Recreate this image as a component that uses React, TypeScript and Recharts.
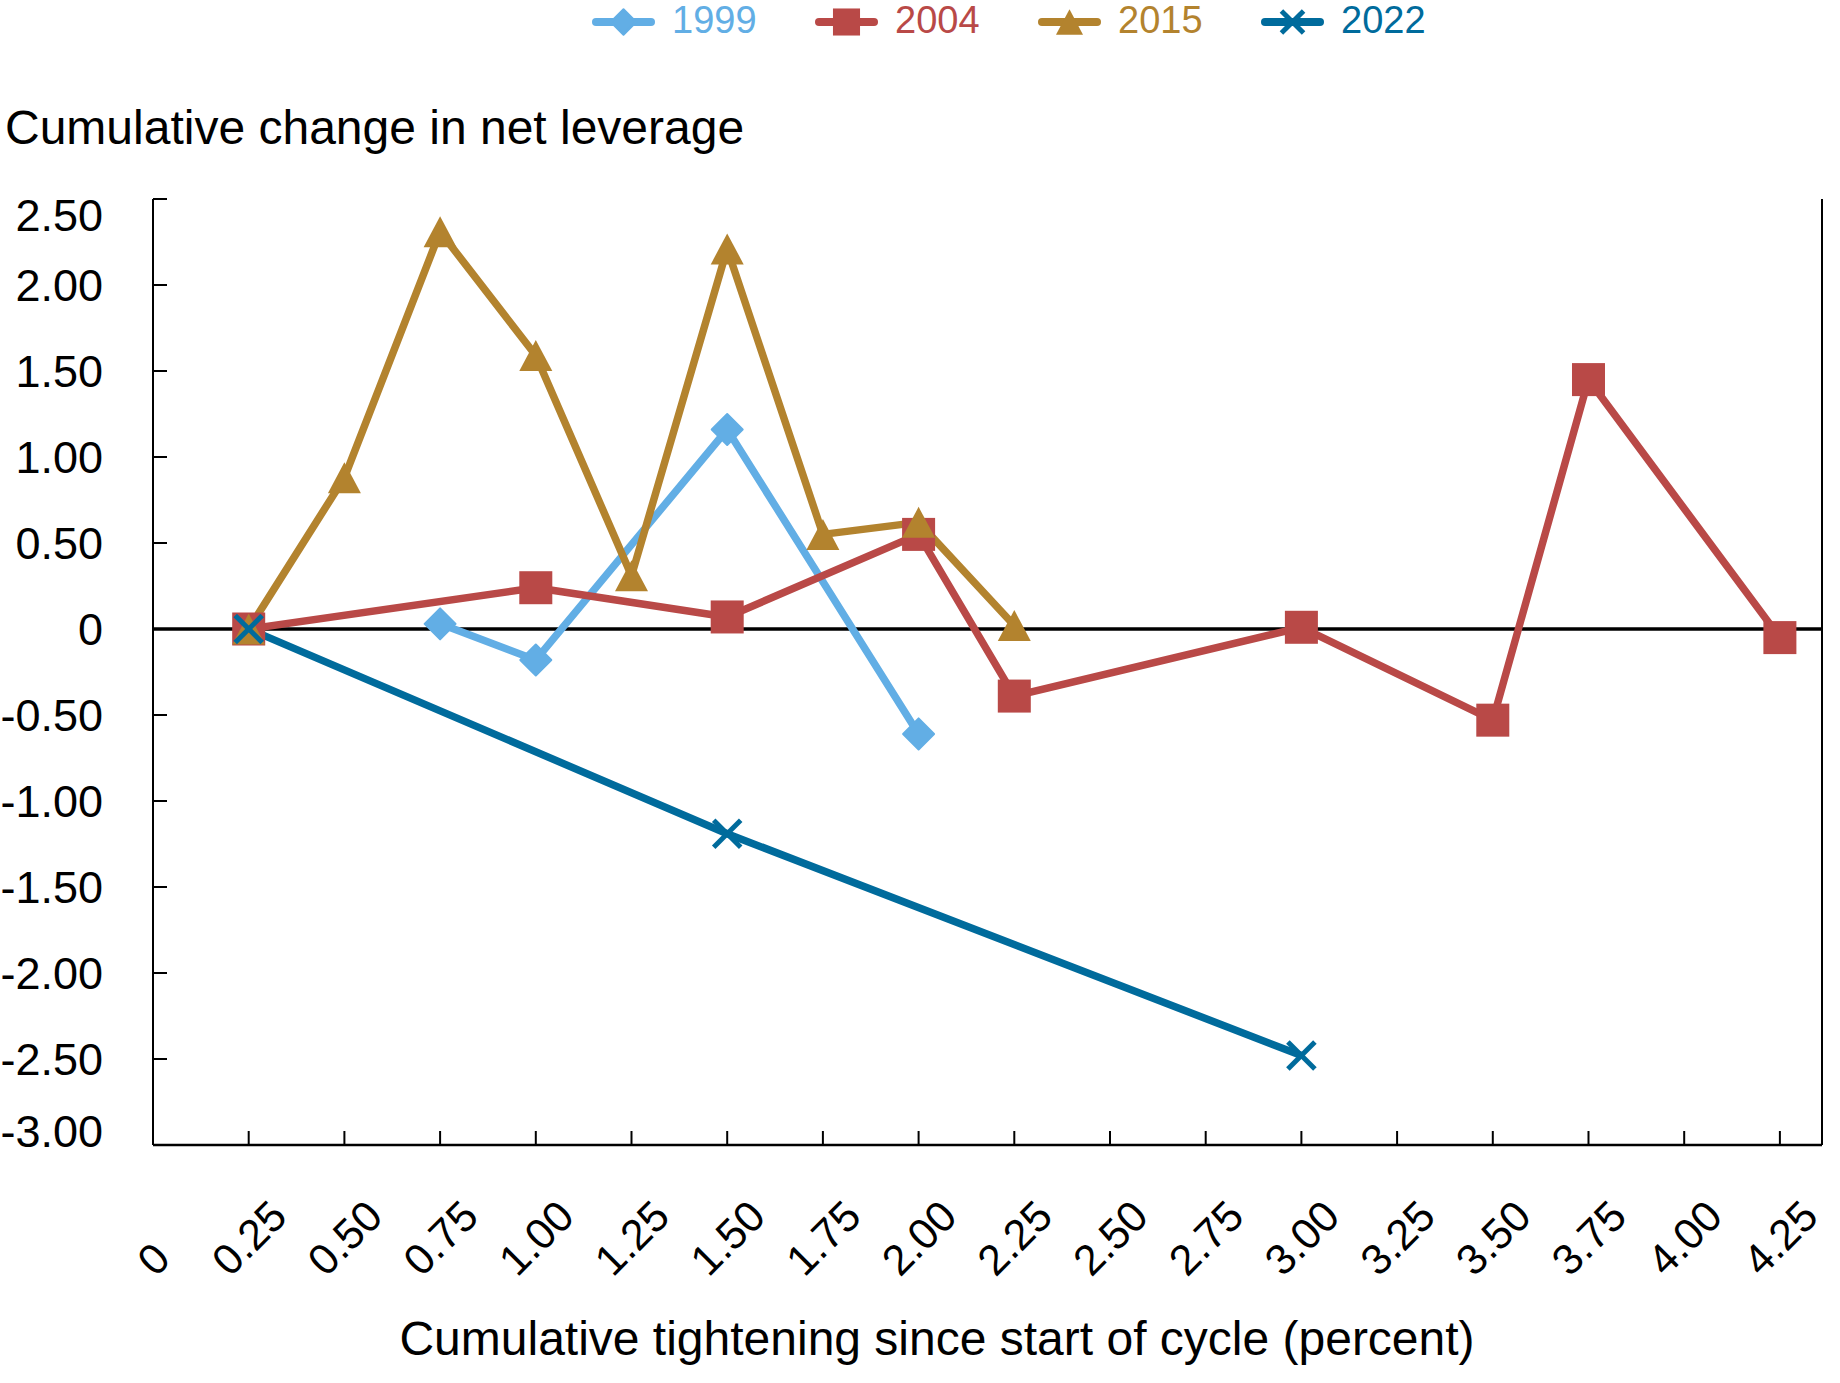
import { LineChart, Line, XAxis, YAxis, ReferenceLine } from 'recharts'

const FONT = '"Liberation Sans", Arial, Helvetica, sans-serif'

// tick values
const xTicks = [0, 0.25, 0.5, 0.75, 1, 1.25, 1.5, 1.75, 2, 2.25, 2.5, 2.75, 3, 3.25, 3.5, 3.75, 4, 4.25]
const yTicks = [-3, -2.5, -2, -1.5, -1, -0.5, 0, 0.5, 1, 1.5, 2, 2.5]

// series: cumulative tightening (x) vs cumulative change in net leverage (y)
const x1999 = [0.75, 1.0, 1.5, 2.0]
const y1999 = [0.03, -0.18, 1.16, -0.61]

const x2004 = [0.25, 1.0, 1.5, 2.0, 2.25, 3.0, 3.5, 3.75, 4.25]
const y2004 = [0, 0.24, 0.07, 0.55, -0.39, 0.01, -0.53, 1.45, -0.05]

const x2015 = [0.25, 0.5, 0.75, 1.0, 1.25, 1.5, 1.75, 2.0, 2.25]
const y2015 = [0, 0.88, 2.31, 1.59, 0.31, 2.21, 0.55, 0.62, 0.02]

const x2022 = [0.25, 1.5, 3.0]
const y2022 = [0, -1.19, -2.48]

const pts = (xs: number[], ys: number[]) => xs.map((x, i) => ({ x, y: ys[i] }))

const C1999 = '#62AEE5'
const C2004 = '#B94947'
const C2015 = '#B3832E'
const C2022 = '#006B9C'

type Shape = 'diamond' | 'square' | 'triangle' | 'cross'

function Marker({ cx, cy, shape, color, s = 1 }: { cx: number; cy: number; shape: Shape; color: string; s?: number }) {
  if (shape === 'diamond') {
    const r = 15.5 * s
    return <polygon points={`${cx},${cy - r} ${cx + r},${cy} ${cx},${cy + r} ${cx - r},${cy}`} fill={color} stroke={color} strokeWidth={2} strokeLinejoin="round" />
  }
  if (shape === 'square') {
    const r = 16.5 * s
    return <rect x={cx - r} y={cy - r} width={2 * r} height={2 * r} fill={color} />
  }
  if (shape === 'triangle') {
    const w = 16.5 * s
    const h = 15.5 * s
    return <polygon points={`${cx},${cy - h} ${cx + w},${cy + h} ${cx - w},${cy + h}`} fill={color} />
  }
  const r = 13.5 * s
  return (
    <g stroke={color} strokeWidth={5}>
      <line x1={cx - r} y1={cy - r} x2={cx + r} y2={cy + r} />
      <line x1={cx - r} y1={cy + r} x2={cx + r} y2={cy - r} />
    </g>
  )
}

const dotFor = (shape: Shape, color: string) => (p: any) =>
  <Marker key={`${shape}-${p.index}`} cx={p.cx} cy={p.cy} shape={shape} color={color} />

const fmt = (v: number) => (v === 0 ? '0' : v.toFixed(2))

function YTick({ x, y, payload }: any) {
  const v = payload.value
  let dy = 16
  if (v === 2.5) dy = 32
  if (v === -3) dy = 2
  return (
    <g>
      <line x1={x} x2={x + 14} y1={y} y2={y} stroke="#000" strokeWidth={2} />
      <text x={x - 50} y={y + dy} textAnchor="end" fontSize={45} fontFamily={FONT} fill="#000">{fmt(v)}</text>
    </g>
  )
}

function RightTick({ x, y }: any) {
  return <line x1={x} x2={x - 14} y1={y} y2={y} stroke="#000" strokeWidth={2} />
}

function XTick({ x, y, payload }: any) {
  const label = fmt(payload.value)
  const fs = 43
  let w = 0
  for (const ch of label) w += ch === '.' ? 0.278 : 0.556
  w *= fs
  const h = fs * 0.716
  const px = x + 0.354 * (w + h)
  const py = y + 133 - 0.707 * w
  return (
    <g>
      <line x1={x} x2={x} y1={y} y2={y - 14} stroke="#000" strokeWidth={2} />
      <text x={px} y={py} textAnchor="end" fontSize={fs} fontFamily={FONT} fill="#000" transform={`rotate(-45, ${px}, ${py})`}>{label}</text>
    </g>
  )
}

const legendItems: { name: string; color: string; shape: Shape }[] = [
  { name: '1999', color: C1999, shape: 'diamond' },
  { name: '2004', color: C2004, shape: 'square' },
  { name: '2015', color: C2015, shape: 'triangle' },
  { name: '2022', color: C2022, shape: 'cross' },
]

export default function App() {
  return (
    <div style={{ position: 'absolute', left: 0, top: 0, width: 1840, height: 1383, background: '#fff', fontFamily: FONT }}>
      {legendItems.map((it, i) => {
        const left = 592 + i * 223
        return (
          <div key={it.name}>
            <svg style={{ position: 'absolute', left, top: 0 }} width={63} height={44}>
              <line x1={4} x2={59} y1={22} y2={22} stroke={it.color} strokeWidth={8} strokeLinecap="round" />
              <Marker cx={31.5} cy={22} shape={it.shape} color={it.color} s={0.82} />
            </svg>
            <div style={{ position: 'absolute', left: left + 80, top: 1, fontSize: 38, lineHeight: '38px', color: it.color, whiteSpace: 'nowrap' }}>
              {it.name}
            </div>
          </div>
        )
      })}
      <div style={{ position: 'absolute', left: 5, top: 104, fontSize: 48, lineHeight: '48px', color: '#000', whiteSpace: 'nowrap' }}>
        Cumulative change in net leverage
      </div>
      <div style={{ position: 'absolute', left: 937, top: 1315, transform: 'translateX(-50%)', fontSize: 48, lineHeight: '48px', color: '#000', whiteSpace: 'nowrap' }}>
        Cumulative tightening since start of cycle (percent)
      </div>
      <div style={{ position: 'absolute', left: 0, top: 0 }}>
        <LineChart width={1840} height={1383} margin={{ top: 199, right: 0, bottom: 0, left: 0 }}>
          <XAxis
            dataKey="x"
            type="number"
            domain={[0, 4.36]}
            ticks={xTicks}
            interval={0}
            height={238}
            tickSize={0}
            tickMargin={0}
            tickLine={false}
            axisLine={{ stroke: '#000', strokeWidth: 2.5 }}
            tick={<XTick />}
            allowDataOverflow
          />
          <XAxis xAxisId="top" orientation="top" type="number" domain={[0, 4.36]} height={0} tick={false} tickLine={false} axisLine={{ stroke: '#000', strokeWidth: 2 }} />
          <YAxis
            type="number"
            domain={[-3, 2.5]}
            ticks={yTicks}
            interval={0}
            width={153}
            tickSize={0}
            tickMargin={0}
            tickLine={false}
            axisLine={{ stroke: '#000', strokeWidth: 2 }}
            tick={<YTick />}
            allowDataOverflow
          />
          <YAxis
            yAxisId="r"
            orientation="right"
            type="number"
            domain={[-3, 2.5]}
            ticks={yTicks}
            interval={0}
            width={18}
            tickSize={0}
            tickMargin={0}
            tickLine={false}
            axisLine={{ stroke: '#000', strokeWidth: 2 }}
            tick={<RightTick />}
          />
          <ReferenceLine y={0} stroke="#000" strokeWidth={3.5} />
          <Line data={pts(x1999, y1999)} dataKey="y" type="linear" stroke={C1999} strokeWidth={7.5} strokeLinejoin="round" dot={dotFor('diamond', C1999)} activeDot={false} isAnimationActive={false} />
          <Line data={pts(x2004, y2004)} dataKey="y" type="linear" stroke={C2004} strokeWidth={7.5} strokeLinejoin="round" dot={dotFor('square', C2004)} activeDot={false} isAnimationActive={false} />
          <Line data={pts(x2015, y2015)} dataKey="y" type="linear" stroke={C2015} strokeWidth={7.5} strokeLinejoin="round" dot={dotFor('triangle', C2015)} activeDot={false} isAnimationActive={false} />
          <Line data={pts(x2022, y2022)} dataKey="y" type="linear" stroke={C2022} strokeWidth={7.5} strokeLinejoin="round" dot={dotFor('cross', C2022)} activeDot={false} isAnimationActive={false} />
        </LineChart>
      </div>
    </div>
  )
}
